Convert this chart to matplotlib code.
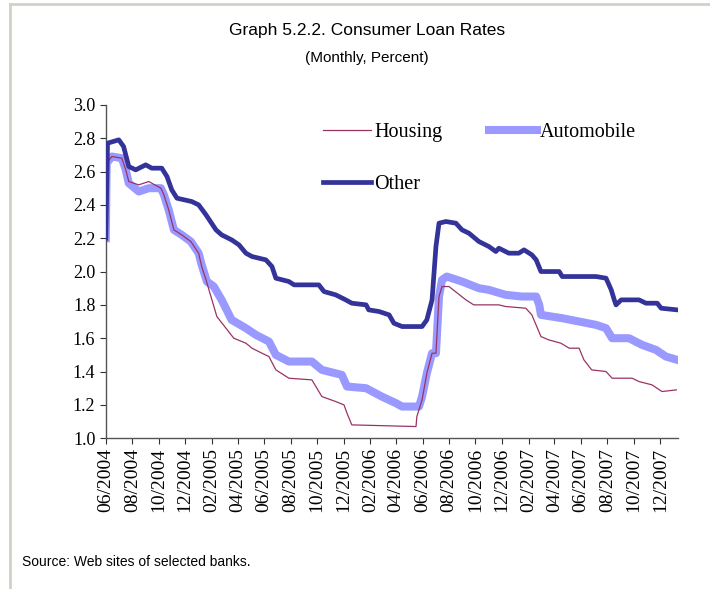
import pandas as pd
import matplotlib.pyplot as plt
import matplotlib.dates as mdates
from matplotlib.lines import Line2D
from matplotlib.ticker import MultipleLocator, FormatStrFormatter

# Rates
other_dates = ['2004-06-01', '2004-06-05', '2004-07-01', '2004-07-12', '2004-07-24',
               '2004-08-09', '2004-09-01', '2004-09-15', '2004-10-08', '2004-10-20',
               '2004-10-31', '2004-11-12', '2004-12-16', '2005-01-01', '2005-01-18',
               '2005-02-10', '2005-02-23', '2005-03-18', '2005-04-04', '2005-04-20',
               '2005-05-04', '2005-06-05', '2005-06-19', '2005-06-28', '2005-07-28',
               '2005-08-09', '2005-10-05', '2005-10-17', '2005-11-13', '2005-12-06',
               '2005-12-20', '2006-01-22', '2006-01-28', '2006-02-21', '2006-03-16',
               '2006-03-27', '2006-04-15', '2006-05-31', '2006-06-11', '2006-06-23',
               '2006-07-02', '2006-07-09', '2006-07-25', '2006-08-17', '2006-08-31',
               '2006-09-16', '2006-10-09', '2006-11-01', '2006-11-17', '2006-11-24',
               '2006-12-17', '2007-01-09', '2007-01-21', '2007-02-08', '2007-02-18',
               '2007-03-01', '2007-04-12', '2007-04-19', '2007-07-06', '2007-07-29',
               '2007-08-10', '2007-08-17', '2007-08-21', '2007-09-02', '2007-10-13',
               '2007-10-29', '2007-11-24', '2007-12-03', '2008-01-09']
other = [2.20, 2.77, 2.79, 2.75, 2.63,
         2.61, 2.64, 2.62, 2.62, 2.57,
         2.49, 2.44, 2.42, 2.40, 2.34,
         2.25, 2.22, 2.19, 2.16, 2.11,
         2.09, 2.07, 2.03, 1.96, 1.94,
         1.92, 1.92, 1.88, 1.86, 1.83,
         1.81, 1.80, 1.77, 1.76, 1.74,
         1.69, 1.67, 1.67, 1.71, 1.83,
         2.15, 2.29, 2.30, 2.29, 2.25,
         2.23, 2.18, 2.15, 2.12, 2.14,
         2.11, 2.11, 2.13, 2.10, 2.07,
         2.00, 2.00, 1.97, 1.97, 1.96,
         1.89, 1.83, 1.80, 1.83, 1.83,
         1.81, 1.81, 1.78, 1.77]

auto_dates = ['2004-06-01', '2004-06-03', '2004-06-15', '2004-07-08', '2004-07-17',
              '2004-07-24', '2004-08-16', '2004-09-08', '2004-10-06', '2004-10-13',
              '2004-10-24', '2004-11-05', '2004-11-23', '2004-12-14', '2005-01-01',
              '2005-01-08', '2005-01-20', '2005-02-05', '2005-02-23', '2005-03-18',
              '2005-04-20', '2005-05-13', '2005-06-12', '2005-06-28', '2005-07-28',
              '2005-09-19', '2005-10-12', '2005-11-27', '2005-12-09', '2006-01-22',
              '2006-02-27', '2006-04-01', '2006-04-15', '2006-05-24', '2006-05-31',
              '2006-06-11', '2006-06-23', '2006-07-02', '2006-07-09', '2006-07-16',
              '2006-07-27', '2006-08-31', '2006-10-09', '2006-11-01', '2006-12-10',
              '2007-01-16', '2007-02-18', '2007-02-25', '2007-03-01', '2007-04-19',
              '2007-05-28', '2007-07-06', '2007-07-29', '2007-08-12', '2007-09-20',
              '2007-10-20', '2007-11-21', '2007-12-14', '2008-01-09']
automobile = [2.20, 2.65, 2.69, 2.68, 2.61,
              2.53, 2.48, 2.50, 2.50, 2.46,
              2.37, 2.25, 2.22, 2.18, 2.11,
              2.04, 1.94, 1.91, 1.83, 1.71,
              1.66, 1.62, 1.58, 1.50, 1.46,
              1.46, 1.41, 1.38, 1.31, 1.30,
              1.25, 1.21, 1.19, 1.19, 1.25,
              1.39, 1.51, 1.51, 1.85, 1.95,
              1.97, 1.94, 1.90, 1.89, 1.86,
              1.85, 1.85, 1.80, 1.74, 1.72,
              1.70, 1.68, 1.66, 1.60, 1.60,
              1.56, 1.53, 1.49, 1.47]

housing_dates = ['2004-06-01', '2004-06-03', '2004-06-15', '2004-07-08', '2004-07-17',
                 '2004-07-24', '2004-08-16', '2004-09-08', '2004-10-06', '2004-10-13',
                 '2004-10-24', '2004-11-05', '2004-11-23', '2004-12-14', '2005-01-01',
                 '2005-01-08', '2005-01-18', '2005-02-12', '2005-03-05', '2005-03-23',
                 '2005-04-20', '2005-05-04', '2005-05-27', '2005-06-12', '2005-06-28',
                 '2005-07-28', '2005-09-19', '2005-10-12', '2005-11-13', '2005-12-02',
                 '2005-12-09', '2005-12-20', '2006-05-17', '2006-05-19', '2006-05-31',
                 '2006-06-11', '2006-06-23', '2006-07-02', '2006-07-09', '2006-07-16',
                 '2006-08-01', '2006-09-09', '2006-09-27', '2006-11-24', '2006-12-10',
                 '2007-01-25', '2007-02-08', '2007-03-01', '2007-03-19', '2007-04-16',
                 '2007-05-05', '2007-05-28', '2007-06-08', '2007-06-26', '2007-07-29',
                 '2007-08-12', '2007-09-27', '2007-10-13', '2007-11-12', '2007-12-05',
                 '2008-01-07']
housing = [2.20, 2.65, 2.69, 2.68, 2.61,
           2.54, 2.52, 2.54, 2.50, 2.46,
           2.37, 2.25, 2.22, 2.18, 2.11,
           2.03, 1.95, 1.73, 1.66, 1.60,
           1.57, 1.54, 1.51, 1.49, 1.41,
           1.36, 1.35, 1.25, 1.22, 1.20,
           1.15, 1.08, 1.07, 1.13, 1.23,
           1.39, 1.51, 1.51, 1.85, 1.91,
           1.91, 1.83, 1.80, 1.80, 1.79,
           1.78, 1.74, 1.61, 1.59, 1.57,
           1.54, 1.54, 1.47, 1.41, 1.40,
           1.36, 1.36, 1.34, 1.32, 1.28,
           1.29]

serif = ['Liberation Serif', 'DejaVu Serif']
sans = ['Liberation Sans', 'DejaVu Sans']

fig = plt.figure(figsize=(7.1, 5.89), dpi=100)
ax = fig.add_axes([0.149, 0.256, 0.806, 0.566])

ax.plot(pd.to_datetime(housing_dates), housing, color='#993366', lw=0.9, label='Housing', zorder=3)
ax.plot(pd.to_datetime(auto_dates), automobile, color='#9999ff', lw=5.8, label='Automobile', zorder=2)
ax.plot(pd.to_datetime(other_dates), other, color='#333399', lw=3.4, label='Other', zorder=4)

ax.set_ylim(1.0, 3.0)
ax.set_xlim(pd.Timestamp('2004-06-01'), pd.Timestamp('2008-01-11'))
ax.yaxis.set_major_locator(MultipleLocator(0.2))
ax.yaxis.set_major_formatter(FormatStrFormatter('%.1f'))
ax.xaxis.set_major_locator(mdates.MonthLocator(bymonth=[2, 4, 6, 8, 10, 12]))
ax.xaxis.set_major_formatter(mdates.DateFormatter('%m/%Y'))

for s in ['top', 'right']:
    ax.spines[s].set_visible(False)
for s in ['left', 'bottom']:
    ax.spines[s].set_color('#555555')
    ax.spines[s].set_linewidth(1.0)
ax.tick_params(axis='both', direction='out', length=4, color='#333333')
ax.tick_params(axis='y', labelsize=13)
ax.tick_params(axis='x', rotation=90, pad=3, labelsize=14)
for lab in ax.get_xticklabels() + ax.get_yticklabels():
    lab.set_family(serif)

h, l = ax.get_legend_handles_labels()
order = [0, 2, 1]
ax.legend([h[i] for i in order], [l[i] for i in order], ncol=2, frameon=False,
          loc='upper left', bbox_to_anchor=(0.362, 0.975), borderpad=0,
          handlelength=2.4, handletextpad=0.15, labelspacing=1.6, columnspacing=2.3,
          prop={'family': serif, 'size': 14.5})

fig.text(0.517, 0.949, 'Graph 5.2.2. Consumer Loan Rates', ha='center', va='center',
         fontsize=12.5, family=sans)
fig.text(0.517, 0.902, '(Monthly, Percent)', ha='center', va='center',
         fontsize=11, family=sans)
fig.text(0.031, 0.046, 'Source: Web sites of selected banks.', ha='left', va='center',
         fontsize=10, family=sans)

# light frame on top and left
fig.add_artist(Line2D([0.014, 1.0], [0.993, 0.993], transform=fig.transFigure,
                      color='#d4d0c8', lw=2))
fig.add_artist(Line2D([0.014, 0.014], [0.0, 0.993], transform=fig.transFigure,
                      color='#d4d0c8', lw=2))

fig.savefig('out.png', dpi=100)
